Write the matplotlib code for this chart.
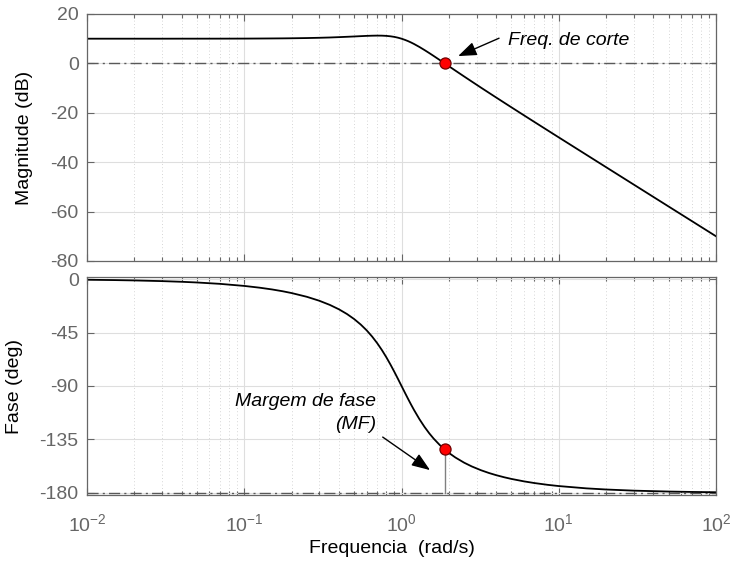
import matplotlib
matplotlib.use("Agg")
import matplotlib.pyplot as plt
from matplotlib.ticker import LogLocator, NullFormatter, FixedLocator

plt.rcParams["font.family"] = ["Liberation Sans", "DejaVu Sans"]
plt.rcParams["mathtext.default"] = "regular"
plt.rcParams["axes.unicode_minus"] = False

# Bode data of the open loop (frequency in rad/s)
freq = [0.01, 0.015, 0.02, 0.03, 0.04, 0.05, 0.07,
        0.1, 0.125, 0.15, 0.175, 0.2, 0.25, 0.3, 0.35, 0.4, 0.45, 0.5,
        0.55, 0.6, 0.65, 0.7, 0.75, 0.8, 0.85, 0.9, 0.95,
        1.0, 1.05, 1.1, 1.15, 1.2, 1.3, 1.4, 1.5, 1.6, 1.75, 1.88, 2.0,
        2.2, 2.5, 2.8, 3.2, 3.6, 4.0, 4.5, 5.0, 6.0, 7.0, 8.5,
        10.0, 15.0, 20.0, 30.0, 50.0, 70.0, 100.0]
mag_db = [10.00, 10.00, 10.00, 10.00, 10.01, 10.01, 10.02,
          10.04, 10.07, 10.10, 10.13, 10.17, 10.26, 10.37, 10.49, 10.63,
          10.77, 10.90, 11.03, 11.14, 11.21, 11.25, 11.23, 11.14, 10.97,
          10.73, 10.40,
          10.00, 9.53, 9.02, 8.46, 7.87, 6.64, 5.40, 4.19, 3.02, 1.36, 0.02,
          -1.14, -2.92, -5.29, -7.37, -9.81, -11.93, -13.82, -15.92, -17.79,
          -21.01, -23.72, -27.12,
          -29.96, -37.02, -42.03, -49.08, -57.96, -63.80, -70.00]
phase_deg = [-0.57, -0.86, -1.15, -1.72, -2.29, -2.87, -4.02,
             -5.77, -7.24, -8.72, -10.23, -11.77, -14.93, -18.25, -21.75,
             -25.46, -29.43, -33.69, -38.26, -43.15, -48.38, -53.93, -59.74,
             -65.77, -71.92, -78.08, -84.14,
             -90.00, -95.58, -100.81, -105.67, -110.14, -117.96, -124.44,
             -129.81, -134.27, -139.69, -143.43, -146.31, -150.19, -154.54,
             -157.74, -160.90, -163.25, -165.07, -166.84, -168.23, -170.27,
             -171.70, -173.20,
             -174.23, -176.17, -177.13, -178.09, -178.85, -179.18, -179.43]

# gain crossover point
w_c = 1.88
mag_c = 0.0
phase_c = -143.43

mag_ticks = [-80, -60, -40, -20, 0, 20]
phase_ticks = [-180, -135, -90, -45, 0]

AX_GRAY = "0.4"
LBL = 14

fig = plt.figure(figsize=(7.32, 5.62), dpi=100)
ax_m = fig.add_axes((0.1189, 0.5356, 0.8593, 0.4395))
ax_p = fig.add_axes((0.1189, 0.1187, 0.8593, 0.3879))

for ax in (ax_m, ax_p):
    ax.set_xscale("log")
    ax.set_xlim(1e-2, 1e2)
    ax.xaxis.set_major_locator(LogLocator(base=10, numticks=10))
    ax.xaxis.set_minor_locator(LogLocator(base=10, subs=range(2, 10), numticks=50))
    ax.xaxis.set_minor_formatter(NullFormatter())
    ax.tick_params(which="both", direction="in", top=True, right=True,
                   colors=AX_GRAY, labelsize=LBL, width=0.8)
    ax.tick_params(which="major", length=5, pad=6)
    ax.tick_params(which="minor", length=3)
    for s in ax.spines.values():
        s.set_color(AX_GRAY)
        s.set_linewidth(0.9)
    ax.grid(True, which="major", color="#dedede", linewidth=0.8, linestyle="-")
    ax.grid(True, which="minor", axis="x", color="#c8c8c8", linewidth=0.6,
            linestyle=(0, (1, 3)))
    ax.set_axisbelow(True)

# magnitude
ax_m.set_ylim(-80, 20)
ax_m.yaxis.set_major_locator(FixedLocator(mag_ticks))
ax_m.tick_params(axis="x", labelbottom=False)
ax_m.axhline(0, color="0.35", linewidth=1.0, linestyle=(0, (8, 3, 1.5, 3)))
ax_m.plot(freq, mag_db, color="black", linewidth=1.3)
ax_m.plot([w_c], [mag_c], "o", markersize=8, markerfacecolor="red",
          markeredgecolor="#700000", markeredgewidth=0.9, zorder=5)
ax_m.set_ylabel("Magnitude (dB)", fontsize=LBL)
ax_m.yaxis.set_label_coords(-0.086, 0.5)

arrow = dict(arrowstyle="-|>,head_length=0.8,head_width=0.3", color="black",
             linewidth=1.0, mutation_scale=14, shrinkA=0, shrinkB=0)
ax_m.annotate("", xy=(2.29, 2.96), xytext=(4.17, 10.2), arrowprops=arrow)
ax_m.text(4.75, 9.3, "Freq. de corte", fontsize=LBL, style="italic",
          ha="left", va="center")

# phase
ax_p.set_ylim(-182, 1.5)
ax_p.yaxis.set_major_locator(FixedLocator(phase_ticks))
ax_p.tick_params(axis="x", which="major", pad=13)
ax_p.axhline(-180, color="0.35", linewidth=1.0, linestyle=(0, (8, 3, 1.5, 3)))
ax_p.plot([w_c, w_c], [-180, phase_c], color="0.5", linewidth=1.0)
ax_p.plot(freq, phase_deg, color="black", linewidth=1.3)
ax_p.plot([w_c], [phase_c], "o", markersize=8, markerfacecolor="red",
          markeredgecolor="#700000", markeredgewidth=0.9, zorder=5)
ax_p.set_ylabel("Fase (deg)", fontsize=LBL)
ax_p.yaxis.set_label_coords(-0.102, 0.5)
ax_p.set_xlabel("Frequencia  (rad/s)", fontsize=LBL)
ax_p.xaxis.set_label_coords(0.485, -0.205)

ax_p.annotate("", xy=(1.518, -160.8), xytext=(0.759, -133.0), arrowprops=arrow)
ax_p.text(0.689, -112.8, "Margem de fase\n(MF)", fontsize=LBL, style="italic",
          ha="right", va="center", multialignment="right", linespacing=1.45)

fig.savefig("out.png", dpi=100)
